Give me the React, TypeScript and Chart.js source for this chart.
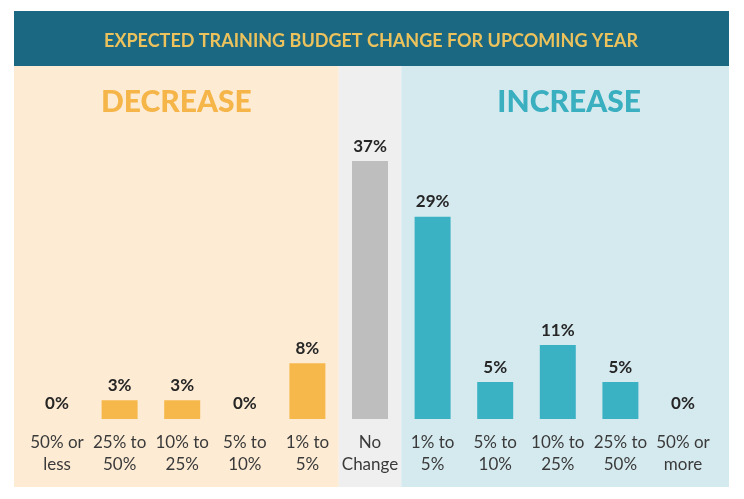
import React, { useEffect, useRef } from "react";
import { Chart, registerables } from "chart.js";

Chart.register(...registerables);

const title = "EXPECTED TRAINING BUDGET CHANGE FOR UPCOMING YEAR";
const categories: string[][] = [
  ["50% or", "less"],
  ["25% to", "50%"],
  ["10% to", "25%"],
  ["5% to", "10%"],
  ["1% to", "5%"],
  ["No", "Change"],
  ["1% to", "5%"],
  ["5% to", "10%"],
  ["10% to", "25%"],
  ["25% to", "50%"],
  ["50% or", "more"],
];
const values = [0, 2.7, 2.7, 0, 8, 37, 29, 5.3, 10.6, 5.3, 0];
const groups = ["dec", "dec", "dec", "dec", "dec", "none", "inc", "inc", "inc", "inc", "inc"];
const groupTitles = { dec: "DECREASE", inc: "INCREASE" };

const COLORS = {
  header: "#1b6882",
  headerText: "#ecc25c",
  decBg: "#fdebd4",
  noneBg: "#efefef",
  incBg: "#d5eaef",
  decBar: "#f6b84a",
  noneBar: "#bebebe",
  incBar: "#3bb2c4",
  decTitle: "#f5b548",
  incTitle: "#3aafc0",
  text: "#262626",
  tick: "#3a3a3a",
};

const FONT = "Lato, 'Noto Sans', sans-serif";

const panelsPlugin = {
  id: "panels",
  beforeDraw(chart: any) {
    const { ctx } = chart;
    const x = chart.scales.x;
    ctx.save();
    ctx.fillStyle = "#ffffff";
    ctx.fillRect(0, 0, chart.width, chart.height);
    const top = 66, bottom = 487, left = 14, right = 729;
    const noneIdx = groups.indexOf("none");
    const decEnd = (x.getPixelForValue(noneIdx - 1) + x.getPixelForValue(noneIdx)) / 2;
    const incStart = (x.getPixelForValue(noneIdx) + x.getPixelForValue(noneIdx + 1)) / 2;
    ctx.fillStyle = COLORS.decBg;
    ctx.fillRect(left, top, decEnd - left, bottom - top);
    ctx.fillStyle = COLORS.noneBg;
    ctx.fillRect(decEnd, top, incStart - decEnd, bottom - top);
    ctx.fillStyle = COLORS.incBg;
    ctx.fillRect(incStart, top, right - incStart, bottom - top);
    // header
    ctx.fillStyle = COLORS.header;
    ctx.fillRect(left, 11, right - left, 55);
    ctx.fillStyle = COLORS.headerText;
    ctx.font = `bold 18px ${FONT}`;
    ctx.textAlign = "center";
    ctx.textBaseline = "middle";
    ctx.fillText(title, 371, 41);
    // group titles
    ctx.font = `900 30px ${FONT}`;
    ctx.fillStyle = COLORS.decTitle;
    ctx.fillText(groupTitles.dec, (left + decEnd) / 2, 102);
    ctx.fillStyle = COLORS.incTitle;
    ctx.fillText(groupTitles.inc, (incStart + right) / 2 + 4, 102);
    ctx.restore();
  },
  afterDatasetsDraw(chart: any) {
    const { ctx } = chart;
    const x = chart.scales.x;
    const y = chart.scales.y;
    ctx.save();
    ctx.textAlign = "center";
    ctx.textBaseline = "middle";
    values.forEach((v, i) => {
      const px = x.getPixelForValue(i);
      ctx.font = `bold 17px ${FONT}`;
      ctx.fillStyle = COLORS.text;
      ctx.fillText(`${Math.round(v)}%`, px, y.getPixelForValue(v) - 15);
      ctx.font = `17px ${FONT}`;
      ctx.fillStyle = COLORS.tick;
      categories[i].forEach((line, j) => {
        ctx.fillText(line, px, 443 + j * 22);
      });
    });
    ctx.restore();
  },
};

export default function App() {
  const ref = useRef<HTMLCanvasElement | null>(null);
  useEffect(() => {
    if (!ref.current) return;
    const barColors = groups.map((g) =>
      g === "dec" ? COLORS.decBar : g === "inc" ? COLORS.incBar : COLORS.noneBar
    );
    const chart = new Chart(ref.current, {
      type: "bar",
      data: {
        labels: categories,
        datasets: [
          {
            data: values,
            backgroundColor: barColors,
            borderWidth: 0,
            categoryPercentage: 1,
            barPercentage: 0.575,
          },
        ],
      },
      options: {
        animation: false,
        responsive: false,
        events: [],
        layout: { padding: { left: 25.7, right: 29.7, top: 70.5, bottom: 80 } },
        plugins: { legend: { display: false }, tooltip: { enabled: false } },
        scales: {
          x: { display: false },
          y: { display: false, min: 0, max: 50 },
        },
      },
      plugins: [panelsPlugin],
    });
    return () => chart.destroy();
  }, []);
  return (
    <div style={{ position: "fixed", left: 0, top: 0, width: 744, height: 499 }}>
      <canvas ref={ref} width={744} height={499} style={{ width: 744, height: 499 }} />
    </div>
  );
}
